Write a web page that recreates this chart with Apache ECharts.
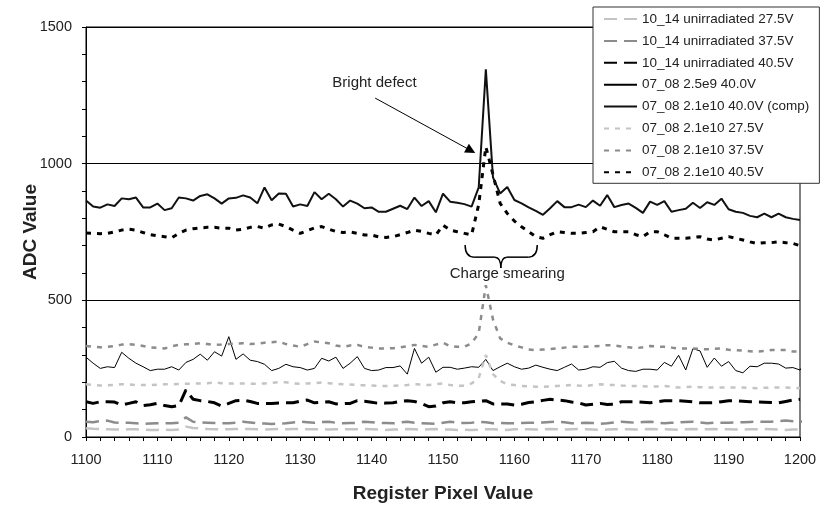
<!DOCTYPE html>
<html>
<head>
<meta charset="utf-8">
<script src="https://cdn.jsdelivr.net/npm/echarts@6/dist/echarts.min.js"></script>
<style>html,body{margin:0;padding:0;background:#fff}#c{width:820px;height:508px}</style>
</head>
<body>
<div id="c"></div>
<script>
// x positions (register pixel)
const xs = [];
for (let x = 1100; x <= 1201; x++) xs.push(x);

const seriesNames = [
  '10_14 unirradiated 27.5V',
  '10_14 unirradiated 37.5V',
  '10_14 unirradiated 40.5V',
  '07_08 2.5e9 40.0V',
  '07_08 2.1e10 40.0V (comp)',
  '07_08 2.1e10 27.5V',
  '07_08 2.1e10 37.5V',
  '07_08 2.1e10 40.5V'
];

const u275 = [32,30,29,28,27,27,28,28,27,26,26,27,26,27,38,33,31,29,28,28,28,29,30,29,28,27,28,29,28,29,30,28,28,29,27,28,29,28,28,29,28,27,26,27,28,29,28,27,28,29,28,27,26,27,26,27,28,28,27,26,28,29,28,27,28,29,28,27,28,29,28,27,26,27,28,29,28,27,28,29,28,28,27,26,28,29,28,28,29,28,28,27,27,28,28,29,28,27,26,27,28,28];
const u375 = [56,54,58,60,53,52,52,50,48,49,50,50,50,52,72,56,53,52,51,50,50,52,56,53,50,49,48,49,50,53,56,54,52,55,56,52,50,51,52,56,54,52,51,50,53,56,52,50,49,48,52,56,52,51,52,56,54,50,51,50,50,51,52,52,53,55,56,54,50,51,52,51,48,50,53,56,54,52,55,56,53,50,52,53,55,56,53,50,52,52,52,53,54,55,56,56,56,58,60,58,56,57];
const u405 = [129,123,129,129,128,117,123,129,115,118,123,115,111,115,172,138,133,130,125,113,123,133,135,130,123,123,123,124,125,125,131,135,125,127,129,121,122,123,133,131,127,123,124,125,130,133,130,122,111,113,125,129,125,125,129,131,133,121,121,121,117,120,126,129,134,138,135,133,128,125,117,120,123,119,120,129,129,129,127,125,129,133,133,133,131,129,125,125,125,129,133,133,131,129,128,127,126,125,130,135,138];
const e9_400 = [292,270,251,257,254,310,288,270,257,243,248,248,257,245,273,284,303,281,312,296,367,284,304,281,276,266,243,251,266,257,254,245,251,288,278,292,251,270,294,251,243,245,254,254,260,230,324,270,292,237,255,255,248,252,257,255,284,243,257,270,257,248,252,263,255,248,243,255,267,245,248,257,255,272,277,252,243,240,248,248,245,273,259,299,245,323,315,255,289,259,276,243,235,259,257,270,270,267,252,254,245,282];
const comp400 = [865,843,839,851,845,873,870,876,840,840,854,830,837,876,873,865,882,888,873,854,873,875,884,876,855,913,866,891,890,843,851,845,896,870,890,870,843,865,854,837,840,824,824,835,846,834,876,845,863,822,890,861,857,852,843,913,1345,950,891,915,867,855,840,827,813,837,863,841,841,850,841,865,846,885,841,849,854,838,820,861,849,863,824,830,835,857,838,859,849,872,833,824,820,809,804,817,804,817,804,798,794];
const e10_275 = [193,190,188,189,191,193,192,190,190,190,191,193,193,194,195,195,196,197,199,197,196,196,196,195,195,196,198,201,200,196,195,196,197,199,197,195,193,192,190,189,188,187,187,187,189,190,193,192,190,193,196,190,188,187,196,215,300,230,205,193,190,187,185,184,184,185,187,188,190,188,187,190,193,191,190,188,187,187,186,184,185,187,184,181,183,184,182,181,181,181,181,181,181,180,178,180,181,181,181,180,178];
const e10_375 = [333,330,328,330,333,338,340,337,333,328,326,324,332,337,339,340,343,340,337,338,340,342,343,340,342,345,347,349,340,335,330,340,349,346,343,335,330,335,337,330,327,324,324,325,328,332,337,333,330,338,345,332,330,330,343,380,555,430,361,345,335,328,320,318,320,322,324,327,330,330,330,332,333,336,335,331,328,325,328,333,331,330,327,324,324,324,322,321,323,324,319,318,316,314,312,315,318,318,318,313,312];
const e10_405 = [746,745,744,745,750,757,760,757,748,740,736,733,729,745,757,762,765,767,767,764,764,757,760,767,770,764,776,779,770,757,745,755,765,770,760,752,748,750,745,739,739,732,730,733,740,748,757,752,745,739,775,757,751,745,739,850,1062,960,855,818,790,769,751,733,727,740,751,748,745,745,748,751,769,760,751,751,751,740,733,751,751,740,727,727,727,730,733,724,721,727,733,727,721,714,708,711,711,714,711,708,700];

const valueSets = [u275, u375, u405, e9_400, comp400, e10_275, e10_375, e10_405];

// axis ticks
const yTicks = [0, 500, 1000, 1500];
const xTicks = [1100, 1110, 1120, 1130, 1140, 1150, 1160, 1170, 1180, 1190, 1200];

// annotations (data coordinates)
const arrowFrom = [1140.5, 1240];
const arrowTo = [1153.9, 1048];
const brightLabelAt = [1140.4, 1295];
const braceLeft = [1153.1, 702];
const braceRight = [1163.2, 702];
const braceTip = [1158.1, 618];
const braceMidY = 658;
const smearLabelAt = [1159.0, 597];

const styles = [
  {color: '#c4c4c4', width: 2.5, type: [13, 7]},
  {color: '#8c8c8c', width: 2.5, type: [13, 7]},
  {color: '#000000', width: 3, type: [13, 7]},
  {color: '#000000', width: 1, type: 'solid'},
  {color: '#111111', width: 2, type: 'solid'},
  {color: '#c4c4c4', width: 2.5, type: [5, 6]},
  {color: '#8c8c8c', width: 2.5, type: [5, 6]},
  {color: '#000000', width: 3, type: [5, 6]}
];

const FONT = '"Liberation Sans", Arial, Helvetica, sans-serif';

const series = seriesNames.map((name, k) => {
  const vals = valueSets[k];
  return {
    name: name,
    type: 'line',
    symbol: 'none',
    clip: false,
    data: vals.map((v, i) => [xs[i], v]),
    lineStyle: {color: styles[k].color, width: styles[k].width, type: styles[k].type},
    itemStyle: {color: styles[k].color},
    emphasis: {disabled: true},
    z: k === 4 ? 5 : 3
  };
});

series[4].markLine = {
  silent: true,
  symbol: ['none', 'triangle'],
  symbolSize: 10,
  label: {show: false},
  lineStyle: {color: '#000', width: 1, type: 'solid'},
  data: [[{coord: arrowFrom}, {coord: arrowTo}]],
  animation: false
};

const chart = echarts.init(document.getElementById('c'), null, {renderer: 'canvas'});
chart.setOption({
  animation: false,
  backgroundColor: '#ffffff',
  textStyle: {fontFamily: FONT},
  grid: {left: 86, right: 20, top: 27, bottom: 71, show: true, borderColor: '#000', borderWidth: 1},
  legend: {
    data: seriesNames,
    orient: 'vertical',
    left: 593,
    top: 7,
    padding: [4, 10, 3, 10],
    itemWidth: 33,
    itemHeight: 10,
    itemGap: 5.9,
    backgroundColor: '#fff',
    borderColor: '#333',
    borderWidth: 1,
    selectedMode: false,
    itemStyle: {opacity: 0},
    textStyle: {fontSize: 13.5, lineHeight: 16, color: '#222', fontFamily: FONT}
  },
  xAxis: {
    type: 'value',
    min: xTicks[0],
    max: xTicks[xTicks.length - 1],
    interval: 10,
    name: 'Register Pixel Value',
    nameLocation: 'middle',
    nameGap: 47,
    nameTextStyle: {fontSize: 19, fontWeight: 'bold', color: '#222', fontFamily: FONT},
    axisLine: {lineStyle: {color: '#000', width: 1}},
    axisTick: {show: true, length: 4, lineStyle: {color: '#000'}},
    minorTick: {show: true, splitNumber: 5, length: 4, lineStyle: {color: '#000'}},
    axisLabel: {fontSize: 14.5, color: '#222', margin: 15, fontFamily: FONT, formatter: (v) => String(v)},
    splitLine: {show: false}
  },
  yAxis: {
    type: 'value',
    min: yTicks[0],
    max: yTicks[yTicks.length - 1],
    interval: 500,
    name: 'ADC Value',
    nameLocation: 'middle',
    nameGap: 46,
    nameMoveOverlap: false,
    nameTextStyle: {fontSize: 19, fontWeight: 'bold', color: '#222', fontFamily: FONT},
    axisLine: {show: true, lineStyle: {color: '#000', width: 1}},
    axisTick: {show: true, length: 4, lineStyle: {color: '#000'}},
    minorTick: {show: true, splitNumber: 5, length: 4, lineStyle: {color: '#000'}},
    axisLabel: {fontSize: 14.5, color: '#222', margin: 14, fontFamily: FONT, formatter: (v) => String(v)},
    splitLine: {show: true, lineStyle: {color: '#000', width: 1}}
  },
  series: series
});

// annotations placed through the axes' own scales
const P = (pt) => chart.convertToPixel({gridIndex: 0}, pt);
const bl = P(braceLeft), br = P(braceRight), bt = P(braceTip), bm = P([braceTip[0], braceMidY]);
const r = 6;
const stroke = {stroke: '#000', lineWidth: 1.5, fill: null};
const bp = P(brightLabelAt), sp = P(smearLabelAt);
chart.setOption({
  graphic: [
    {type: 'bezierCurve', shape: {x1: bl[0], y1: bl[1], cpx1: bl[0], cpy1: bm[1], x2: bl[0] + r * 1.5, y2: bm[1]}, style: stroke, z: 10, silent: true},
    {type: 'line', shape: {x1: bl[0] + r * 1.5, y1: bm[1], x2: bt[0] - r, y2: bm[1]}, style: stroke, z: 10, silent: true},
    {type: 'bezierCurve', shape: {x1: bt[0] - r, y1: bm[1], cpx1: bt[0], cpy1: bm[1], x2: bt[0], y2: bt[1]}, style: stroke, z: 10, silent: true},
    {type: 'bezierCurve', shape: {x1: bt[0] + r, y1: bm[1], cpx1: bt[0], cpy1: bm[1], x2: bt[0], y2: bt[1]}, style: stroke, z: 10, silent: true},
    {type: 'line', shape: {x1: bt[0] + r, y1: bm[1], x2: br[0] - r * 1.5, y2: bm[1]}, style: stroke, z: 10, silent: true},
    {type: 'bezierCurve', shape: {x1: br[0] - r * 1.5, y1: bm[1], cpx1: br[0], cpy1: bm[1], x2: br[0], y2: br[1]}, style: stroke, z: 10, silent: true},
    {type: 'text', x: bp[0], y: bp[1], style: {text: 'Bright defect', fontSize: 15, fontFamily: FONT, fill: '#222', align: 'center', verticalAlign: 'middle'}, z: 10, silent: true},
    {type: 'text', x: sp[0], y: sp[1], style: {text: 'Charge smearing', fontSize: 15, fontFamily: FONT, fill: '#222', align: 'center', verticalAlign: 'middle'}, z: 10, silent: true}
  ]
});
</script>
</body>
</html>
